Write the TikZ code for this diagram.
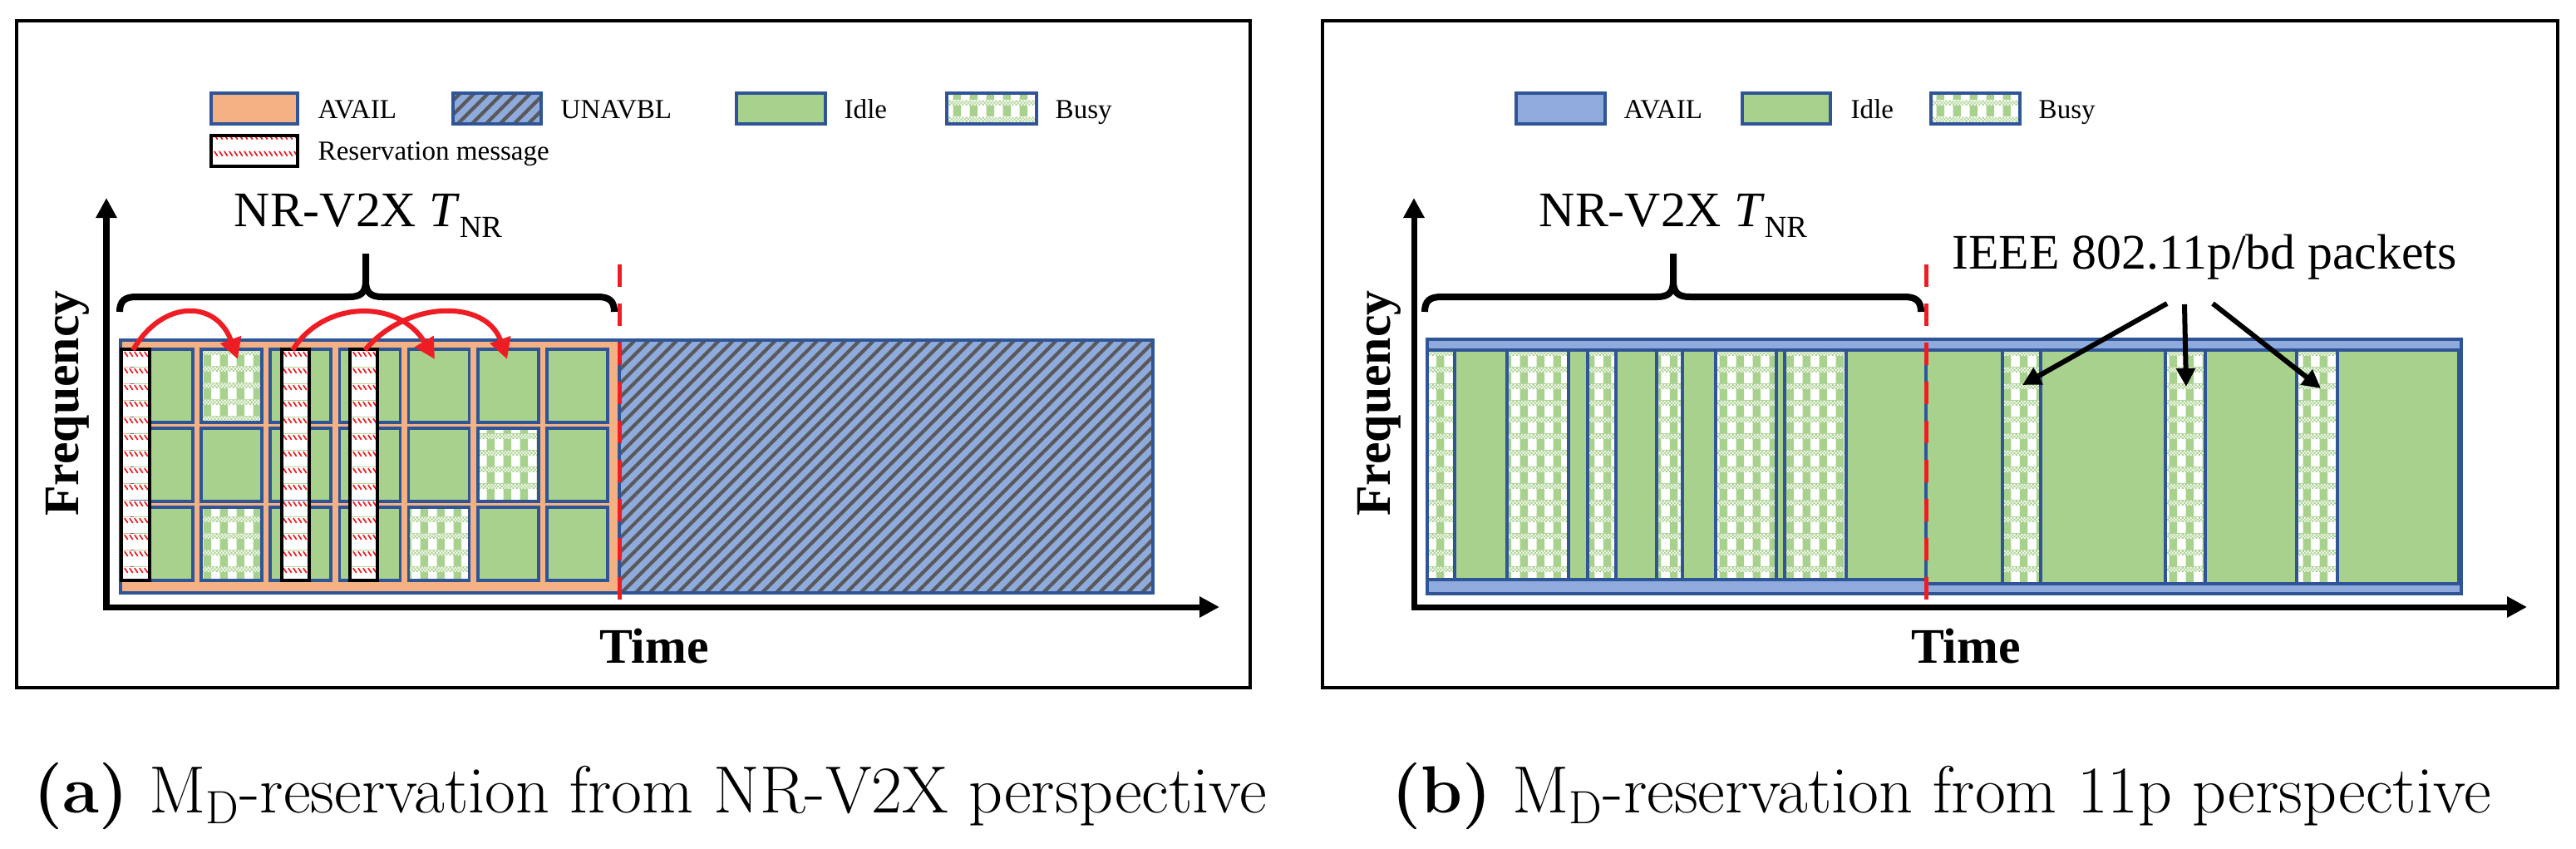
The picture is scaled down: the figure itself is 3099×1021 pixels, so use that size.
\documentclass[tikz,border=0pt]{standalone}
\usepackage{fontspec}
\newfontfamily\tnr{Liberation Serif}
\usetikzlibrary{arrows.meta,patterns,patterns.meta}
\definecolor{bdblue}{HTML}{2F5597}
\definecolor{availorange}{HTML}{F4B183}
\definecolor{availblue}{HTML}{8FAADC}
\definecolor{idlegreen}{HTML}{A9D18E}
\definecolor{hatchgray}{HTML}{595959}
\definecolor{resred}{HTML}{EE1D23}
\pgfdeclarepatterninherentlycolored{busyp}{\pgfpointorigin}{\pgfpoint{5.7pt}{5.7pt}}{\pgfpoint{5.7pt}{5.7pt}}{%
  \pgfsetfillcolor{white}%
  \pgfpathrectangle{\pgfpointorigin}{\pgfpoint{5.7pt}{5.7pt}}\pgfusepath{fill}%
  \pgfsetfillcolor{idlegreen}%
  \pgfpathrectangle{\pgfpoint{1.4pt}{0pt}}{\pgfpoint{2.8pt}{3.9pt}}\pgfusepath{fill}%
  \pgfsetstrokecolor{idlegreen}%
  \pgfsetlinewidth{0.6pt}%
  \pgfsetdash{{0.57pt}{0.57pt}}{0pt}%
  \pgfpathmoveto{\pgfpoint{0pt}{4.2pt}}\pgfpathlineto{\pgfpoint{5.7pt}{4.2pt}}\pgfusepath{stroke}%
  \pgfsetdash{{0.57pt}{0.57pt}}{0.57pt}%
  \pgfpathmoveto{\pgfpoint{0pt}{4.8pt}}\pgfpathlineto{\pgfpoint{5.7pt}{4.8pt}}\pgfusepath{stroke}%
  \pgfsetdash{{0.57pt}{0.57pt}}{0pt}%
  \pgfpathmoveto{\pgfpoint{0pt}{5.4pt}}\pgfpathlineto{\pgfpoint{5.7pt}{5.4pt}}\pgfusepath{stroke}%
}
\pgfdeclarepatterninherentlycolored{resp}{\pgfpointorigin}{\pgfpoint{1.7pt}{5.7pt}}{\pgfpoint{1.7pt}{5.7pt}}{%
  \pgfsetfillcolor{white}%
  \pgfpathrectangle{\pgfpointorigin}{\pgfpoint{1.7pt}{5.7pt}}\pgfusepath{fill}%
  \pgfsetstrokecolor{resred}%
  \pgfsetlinewidth{0.5pt}%
  \pgfpathmoveto{\pgfpoint{0.25pt}{5.3pt}}\pgfpathlineto{\pgfpoint{1.35pt}{3.6pt}}\pgfusepath{stroke}%
}
\tikzset{
  frame/.style={draw=black, line width=0.35mm},
  chan/.style={draw=bdblue, line width=0.35mm},
  idlec/.style={chan, fill=idlegreen},
  busyc/.style={chan, pattern=busyp},
  availa/.style={chan, fill=availorange},
  availb/.style={chan, fill=availblue},
  unav/.style={chan, preaction={fill=availblue}, pattern={Lines[angle=45,distance=3.4pt,line width=1.2pt]}, pattern color=hatchgray},
  resbar/.style={draw=black, line width=0.35mm, pattern=resp},
  legtext/.style={font=\tnr\fontsize{9.4pt}{11pt}\selectfont, anchor=base west, inner sep=0pt},
  bigtext/.style={font=\tnr\fontsize{17pt}{20pt}\selectfont, inner sep=0pt},
  axislbl/.style={font=\tnr\bfseries\fontsize{17pt}{20pt}\selectfont, inner sep=0pt},
  axisarrow/.style={line width=0.7mm, {Triangle[length=2.4mm,width=2.4mm]}-{Triangle[length=2.4mm,width=2.4mm]}},
  bracestyle/.style={line width=0.8mm},
  reddash/.style={draw=resred, line width=0.5mm, dash pattern=on 2.7mm off 2mm},
  redarrow/.style={draw=resred, line width=0.6mm, -{Triangle[length=2.5mm,width=2.5mm]}},
  blackarrow/.style={draw=black, line width=0.6mm, -{Triangle[length=2.2mm,width=2.2mm]}},
  captext/.style={font=\fontsize{22.8pt}{26pt}\selectfont, inner sep=0pt, anchor=base west},
}
\begin{document}
\begin{tikzpicture}[x=0.01cm, y=-0.01cm]
\useasboundingbox (0,0) rectangle (3099,1021);

% ---------- panel frames ----------
\draw[frame] (20,25) rectangle (1504,827);
\draw[frame] (1591,25) rectangle (3077,827);

% ---------- legend (a) ----------
\draw[availa] (254,112) rectangle (358,149);
\node[legtext] (la1) at (382,142) {AVAIL};
\draw[unav] (545,112) rectangle (651,149);
\node[legtext] (la2) at (674,142) {UNAVBL};
\draw[idlec] (886,112) rectangle (993,149);
\node[legtext] (la3) at (1015,142) {Idle};
\draw[busyc] (1139,112) rectangle (1247,149);
\node[legtext] (la4) at (1269,142) {Busy};
\draw[resbar] (254,163) rectangle (358,200);
\node[legtext] (la5) at (382,192) {Reservation message};

% ---------- legend (b) ----------
\draw[availb] (1824,112) rectangle (1931,149);
\node[legtext] (lb1) at (1953,142) {AVAIL};
\draw[idlec] (2096,112) rectangle (2202,149);
\node[legtext] (lb2) at (2226,142) {Idle};
\draw[busyc] (2323,112) rectangle (2430,149);
\node[legtext] (lb3) at (2452,142) {Busy};

% ---------- channel (a) ----------
\draw[availa] (145,409) rectangle (745,713);
\draw[unav] (745,409) rectangle (1387,713);
\foreach \c in {0,...,6}{\foreach \r in {0,1,2}{
  \draw[idlec] ({158.8+83.2*\c},{420+95*\r}) rectangle ++(73,88);
}}
\draw[busyc] (242,420) rectangle ++(73,88);
\draw[busyc] (574.8,515) rectangle ++(73,88);
\draw[busyc] (242,610) rectangle ++(73,88);
\draw[busyc] (491.6,610) rectangle ++(73,88);
\draw[resbar] (146,420) rectangle (180,698);
\draw[resbar] (339,420) rectangle (372,698);
\draw[resbar] (421,420) rectangle (454,698);

% ---------- channel (b) ----------
\draw[availb] (1717,408) rectangle (2961,714);
\draw[idlec] (1717,421) rectangle (2317,697);
\draw[idlec] (2317,421) rectangle (2958,702);
\foreach \a/\b in {1717/1750,1813/1887,1910/1944,1993/2024,2064/2137,2147/2221}{
  \draw[busyc] (\a,421) rectangle (\b,697);
}
\foreach \a/\b in {2409/2455,2605/2653,2763/2812}{
  \draw[busyc] (\a,421) rectangle (\b,702);
}

% ---------- dashed boundaries ----------
\draw[reddash] (745,318) -- (745,727);
\draw[reddash] (2317,318) -- (2317,727);

% ---------- axes ----------
\coordinate (oa) at (128,730);
\coordinate (ya) at (128,238);
\coordinate (xa) at (1467,730);
\draw[axisarrow] (ya) -- (oa) -- (xa);
\coordinate (ob) at (1701,730);
\coordinate (yb) at (1701,238);
\coordinate (xb) at (3040,730);
\draw[axisarrow] (yb) -- (ob) -- (xb);
\node[axislbl, rotate=90, anchor=base] (fa) at (94,485) {Frequency};
\node[axislbl, rotate=90, anchor=base] (fb) at (1672,485) {Frequency};
\node[axislbl, anchor=base] (ta) at (787,797) {Time};
\node[axislbl, anchor=base] (tb) at (2365,797) {Time};

% ---------- braces and labels ----------
\draw[bracestyle] (144,375) .. controls (144,362) and (150,357) .. (164,357) -- (420,357) .. controls (434,357) and (440,352) .. (440,338) -- (440,305)
  (440,338) .. controls (440,352) and (446,357) .. (460,357) -- (719,357) .. controls (733,357) and (739,362) .. (739,375);
\draw[bracestyle] (1714,375) .. controls (1714,362) and (1720,357) .. (1734,357) -- (1993,357) .. controls (2007,357) and (2013,352) .. (2013,338) -- (2013,305)
  (2013,338) .. controls (2013,352) and (2019,357) .. (2033,357) -- (2291,357) .. controls (2305,357) and (2311,362) .. (2311,375);
\node[bigtext, anchor=base] (nra) at (443,272) {NR-V2X \textit{T}\raisebox{-3.7pt}{\fontsize{10.5pt}{12pt}\selectfont NR}};
\node[bigtext, anchor=base] (nrb) at (2013,272) {NR-V2X \textit{T}\raisebox{-3.7pt}{\fontsize{10.5pt}{12pt}\selectfont NR}};

% ---------- reservation arrows (a) ----------
\coordinate (a1s) at (160,421); \coordinate (a1e) at (286,432);
\coordinate (a2s) at (352,421); \coordinate (a2e) at (523,432);
\coordinate (a3s) at (439,421); \coordinate (a3e) at (610,432);
\draw[redarrow] (a1s) .. controls (195,360) and (260,360) .. (a1e);
\draw[redarrow] (a2s) .. controls (390,360) and (480,360) .. (a2e);
\draw[redarrow] (a3s) .. controls (490,360) and (585,360) .. (a3e);

% ---------- packets label (b) ----------
\node[bigtext, anchor=base] (ieee) at (2652,323) {IEEE 802.11p/bd packets};
\coordinate (p1s) at (2607,365); \coordinate (p1e) at (2433,463);
\coordinate (p2s) at (2628,366); \coordinate (p2e) at (2630,465);
\coordinate (p3s) at (2662,365); \coordinate (p3e) at (2792,467);
\draw[blackarrow] (p1s) -- (p1e);
\draw[blackarrow] (p2s) -- (p2e);
\draw[blackarrow] (p3s) -- (p3e);

% ---------- captions ----------
\node[captext] (capa) at (40,977) {\textbf{(a)} M\textsubscript{D}-reservation from NR-V2X perspective};
\node[captext] (capb) at (1674,977) {\textbf{(b)} M\textsubscript{D}-reservation from 11p perspective};
\end{tikzpicture}
\end{document}
